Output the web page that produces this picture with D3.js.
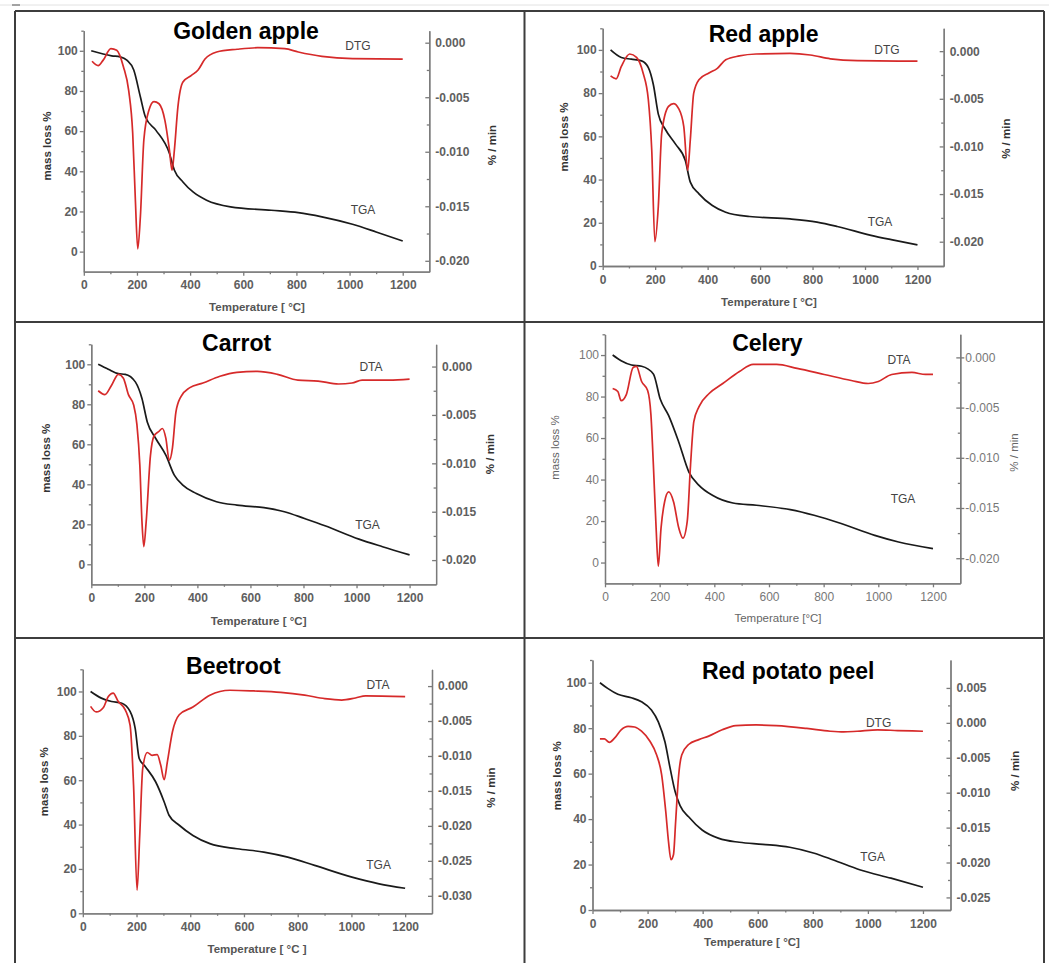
<!DOCTYPE html>
<html>
<head>
<meta charset="utf-8">
<script src="https://cdnjs.cloudflare.com/ajax/libs/d3/7.8.5/d3.min.js"></script>
<style>
    body { margin: 0; background: #fff; }
    svg { display: block; font-family: "Liberation Sans", Arial, sans-serif; }
</style>
</head>
<body>
<div id="chart_area"></div>
<script>
// titles and labels
var titles = ["Golden apple", "Red apple", "Carrot", "Celery", "Beetroot", "Red potato peel"];
var rateNames = ["DTG", "DTG", "DTA", "DTA", "DTA", "DTG"];
var tempTitles = ["Temperature [ °C]", "Temperature [ °C]", "Temperature [ °C]", "Temperature [°C]", "Temperature [ °C ]", "Temperature [ °C]"];

// tick values
var tempTicks = [0, 200, 400, 600, 800, 1000, 1200];
var tempMinor = [100, 300, 500, 700, 900, 1100];
var massTicks = [0, 20, 40, 60, 80, 100];
var massMinor = [10, 30, 50, 70, 90, 110];
var rateTicks20 = [0, -0.005, -0.010, -0.015, -0.020];
var rateTicks30 = [0, -0.005, -0.010, -0.015, -0.020, -0.025, -0.030];
var rateTicks25 = [0.005, 0, -0.005, -0.010, -0.015, -0.020, -0.025];

// [temperature °C, mass %]  /  [temperature °C, rate %/min]
var goldenTGA = [[28,100],[105,97.5],[137,97],[162,95.3],[188,90.4],[213,77],[232,67],[271,60.5],[322,49],[341,40.5],[373,34.7],[411,29.7],[462,25.6],[552,22.3],[705,20.6],[807,19.4],[896,17.3],[1011,13.6],[1100,9.8],[1200,5.3]];
var goldenDTG = [[31,-0.0017],[54,-0.0021],[73,-0.0016],[102,-0.00055],[124,-0.0007],[149,-0.0022],[169,-0.0044],[184,-0.0083],[194,-0.0144],[203,-0.0189],[213,-0.0159],[226,-0.0089],[245,-0.0062],[264,-0.0054],[283,-0.0056],[305,-0.0071],[322,-0.0098],[332,-0.0117],[341,-0.0098],[354,-0.0059],[373,-0.0036],[405,-0.0030],[430,-0.0025],[456,-0.0015],[500,-0.00085],[577,-0.0006],[654,-0.00046],[756,-0.00055],[807,-0.00085],[896,-0.00125],[1011,-0.00146],[1200,-0.0015]];

var redTGA = [[30,100],[71,96.5],[109,95.7],[148,94.9],[174,91.8],[193,84],[212,70.3],[238,63.4],[277,56.5],[315,48.8],[334,38.8],[367,33.4],[418,28],[469,24.9],[560,22.9],[714,21.8],[817,20.3],[894,18.3],[1023,14.2],[1100,12.2],[1200,9.8]];
var redDTG = [[30,-0.0026],[51,-0.0029],[71,-0.0016],[103,-0.0003],[129,-0.00066],[154,-0.0023],[174,-0.0051],[187,-0.0104],[199,-0.0200],[212,-0.0163],[225,-0.0086],[251,-0.0058],[270,-0.0055],[289,-0.0060],[309,-0.0079],[324,-0.0125],[334,-0.0093],[347,-0.0044],[367,-0.0030],[405,-0.0023],[437,-0.0018],[469,-0.0009],[521,-0.0005],[585,-0.0003],[714,-0.00024],[791,-0.0004],[868,-0.0008],[971,-0.0010],[1200,-0.00105]];

var carrotTGA = [[26,100],[64,97.5],[102,95.3],[128,95],[166,91.2],[191,82.9],[211,71.2],[243,62.9],[281,54.6],[313,44.6],[345,39.6],[396,35.4],[472,31.3],[549,29.6],[651,28.3],[728,26.3],[804,22.9],[881,19.3],[1009,12.6],[1098,8.8],[1200,4.7]];
var carrotDTA = [[26,-0.0025],[51,-0.0029],[77,-0.0019],[102,-0.0008],[121,-0.0012],[140,-0.0029],[160,-0.0040],[172,-0.0060],[183,-0.0102],[191,-0.0160],[198,-0.0186],[207,-0.0160],[223,-0.0092],[236,-0.0072],[255,-0.0067],[268,-0.0064],[281,-0.0074],[294,-0.0097],[306,-0.0084],[319,-0.0047],[338,-0.0031],[370,-0.0022],[421,-0.0017],[485,-0.0010],[549,-0.0006],[626,-0.0005],[702,-0.0008],[779,-0.0014],[855,-0.0015],[932,-0.0018],[983,-0.0017],[1021,-0.0014],[1123,-0.0014],[1200,-0.0013]];

var celeryTGA = [[28,100],[59,97.3],[97,95.2],[134,94.6],[177,90.9],[202,78.8],[233,70.8],[270,58],[307,43.6],[344,37.2],[393,32.4],[468,28.7],[554,27.6],[678,25.5],[765,22.8],[864,18.8],[987,13.1],[1074,9.9],[1200,6.7]];
var celeryDTA = [[28,-0.0031],[47,-0.0034],[59,-0.0043],[78,-0.0037],[103,-0.0010],[115,-0.0009],[134,-0.0024],[156,-0.0033],[168,-0.0057],[177,-0.0107],[187,-0.0170],[195,-0.0208],[205,-0.0170],[218,-0.0144],[233,-0.0134],[251,-0.0144],[270,-0.0170],[285,-0.0180],[301,-0.0163],[313,-0.0107],[325,-0.0064],[344,-0.0049],[381,-0.0036],[431,-0.0026],[492,-0.0014],[542,-0.0007],[628,-0.0007],[703,-0.0011],[802,-0.0017],[901,-0.0023],[963,-0.0026],[1000,-0.0024],[1049,-0.0017],[1123,-0.0015],[1173,-0.0017],[1200,-0.0017]];

var beetTGA = [[29,100],[69,97],[107,95.5],[145,94.7],[176,91],[195,83.4],[210,69.8],[233,66.1],[271,59.3],[303,50.2],[321,44.2],[359,39.7],[410,35.1],[473,31.4],[574,29.1],[674,27.6],[763,25.3],[863,21.6],[1002,16.3],[1103,13.3],[1200,11.3]];
var beetDTA = [[29,-0.0029],[50,-0.0037],[76,-0.0031],[95,-0.0015],[113,-0.0010],[132,-0.0022],[158,-0.0034],[176,-0.0056],[189,-0.0142],[202,-0.0292],[212,-0.0213],[223,-0.0118],[240,-0.0095],[258,-0.0099],[277,-0.0098],[290,-0.0113],[303,-0.0134],[315,-0.0108],[334,-0.0065],[359,-0.0041],[410,-0.0030],[473,-0.0013],[548,-0.0006],[637,-0.0007],[737,-0.0009],[826,-0.0013],[901,-0.0018],[964,-0.0020],[1015,-0.0017],[1053,-0.0014],[1200,-0.0015]];

var potatoTGA = [[27,100],[55,97.5],[92,94.9],[141,93.4],[178,91.6],[214,88],[239,82.8],[263,74],[282,62.3],[300,52.1],[318,45.9],[349,41],[398,35.2],[459,31.5],[533,29.8],[618,28.9],[716,27.6],[802,25.1],[875,22],[973,17.6],[1084,14],[1200,10]];
var potatoDTG = [[27,-0.0023],[43,-0.0023],[61,-0.0028],[80,-0.0022],[104,-0.0010],[129,-0.0005],[153,-0.0006],[178,-0.0012],[208,-0.0026],[233,-0.0046],[251,-0.0074],[266,-0.0127],[276,-0.0170],[285,-0.0196],[294,-0.0189],[302,-0.0141],[312,-0.0079],[324,-0.0046],[349,-0.0031],[386,-0.0024],[422,-0.0019],[471,-0.0010],[520,-0.0004],[594,-0.0003],[667,-0.0004],[778,-0.0008],[863,-0.0012],[912,-0.0013],[961,-0.0012],[1035,-0.0010],[1108,-0.0011],[1200,-0.0012]];

var tgaSeries = [goldenTGA, redTGA, carrotTGA, celeryTGA, beetTGA, potatoTGA];
var rateSeries = [goldenDTG, redDTG, carrotDTA, celeryDTA, beetDTA, potatoDTG];
var rateTickSets = [rateTicks20, rateTicks20, rateTicks20, rateTicks20, rateTicks30, rateTicks25];
var massDomains = [[-10, 110], [0, 110], [-10, 110], [-10, 110], [0, 110], [0, 110]];
var rateDomains = [[-0.021, 0.0011], [-0.02255, 0.0024], [-0.0225, 0.0023], [-0.0225, 0.0023], [-0.0325, 0.0024], [-0.0268, 0.009]];

// panel placement (pixels)
var panels = [
    { left: 83.8, right: 429.3, top: 30.7, bottom: 271.7, titleX: 246, titleY: 38.5, rateLab: [358, 46], tgaLab: [363, 210], xTitle: [257, 311], mTitle: [47.3, 146], rTitle: [492, 145] },
    { left: 602.7, right: 943.7, top: 28.3, bottom: 266, titleX: 763.6, titleY: 41.5, rateLab: [887, 50], tgaLab: [880, 221.7], xTitle: [769, 306], mTitle: [564, 137], rTitle: [1006, 138.7] },
    { left: 91.3, right: 436.1, top: 344.3, bottom: 584.3, titleX: 236.6, titleY: 350.7, rateLab: [371, 366.7], tgaLab: [367.5, 524.3], xTitle: [258.6, 625], mTitle: [46.3, 458.3], rTitle: [490.2, 454] },
    { left: 605, right: 960.3, top: 334.3, bottom: 583.3, titleX: 767.3, titleY: 351, rateLab: [899, 360], tgaLab: [903, 499], xTitle: [778, 622], mTitle: [555.4, 447.5], rTitle: [1014.3, 452.5] },
    { left: 82.8, right: 432, top: 669.3, bottom: 913.3, titleX: 233.3, titleY: 674.3, rateLab: [378, 685], tgaLab: [378.6, 865], xTitle: [257, 953], mTitle: [44, 781.7], rTitle: [490.9, 787.5] },
    { left: 592.5, right: 950.5, top: 660, bottom: 910, titleX: 788.2, titleY: 679, rateLab: [878.6, 722.3], tgaLab: [872.6, 856.7], xTitle: [752, 945.5], mTitle: [557, 775.8], rTitle: [1015.3, 770.8] }
];

var width = 1049, height = 963;

var svg = d3.select("#chart_area")
    .append("svg")
    .attr("width", width)
    .attr("height", height);

// page rule and table grid
svg.append("line").attr("x1", 0).attr("x2", width).attr("y1", 5).attr("y2", 5)
    .attr("stroke", "#e2e2e2").attr("stroke-width", 1);
svg.append("line").attr("x1", 12).attr("x2", 20).attr("y1", 5).attr("y2", 5)
    .attr("stroke", "#555").attr("stroke-width", 1);

var grid = svg.append("g").attr("stroke", "#3d3d3d").attr("stroke-width", 2);
[[15, 11, 1044, 11], [15, 322, 1044, 322], [15, 638, 1044, 638],
 [15, 11, 15, height], [524.5, 11, 524.5, height], [1044, 11, 1044, height]].forEach(function (l) {
    grid.append("line").attr("x1", l[0]).attr("y1", l[1]).attr("x2", l[2]).attr("y2", l[3]);
});

function styleAxis(sel, light) {
    sel.selectAll("path, line").attr("stroke", "#7a7a7a").attr("stroke-width", 1.3);
    sel.attr("font-family", null).attr("font-size", null);
    sel.selectAll("text")
        .attr("fill", light ? "#777" : "#606060")
        .style("font-size", "12px")
        .style("font-weight", light ? "normal" : "bold");
}

function drawPanel(p, i) {
    var light = (i === 3);
    var g = svg.append("g").attr("class", "panel");

    var x = d3.scaleLinear().domain([0, 1300]).range([p.left, p.right]);
    var yMass = d3.scaleLinear().domain(massDomains[i]).range([p.bottom, p.top]);
    var yRate = d3.scaleLinear().domain(rateDomains[i]).range([p.bottom, p.top]);

    // x axis
    var xa = g.append("g").attr("transform", "translate(0," + p.bottom + ")")
        .call(d3.axisBottom(x).tickValues(tempTicks).tickFormat(d3.format("d"))
            .tickSize(4).tickPadding(5).tickSizeOuter(0));
    styleAxis(xa, light);
    var xm = g.append("g").attr("transform", "translate(0," + p.bottom + ")")
        .call(d3.axisBottom(x).tickValues(tempMinor).tickSize(2.5).tickFormat("").tickSizeOuter(0));
    styleAxis(xm, light);

    // left axis
    var ya = g.append("g").attr("transform", "translate(" + p.left + ",0)")
        .call(d3.axisLeft(yMass).tickValues(massTicks).tickSize(4).tickPadding(2).tickSizeOuter(0));
    styleAxis(ya, light);
    var ym = g.append("g").attr("transform", "translate(" + p.left + ",0)")
        .call(d3.axisLeft(yMass).tickValues(massMinor).tickSize(2.5).tickFormat("").tickSizeOuter(0));
    styleAxis(ym, light);

    // right axis
    var rt = rateTickSets[i];
    var rMinor = rt.slice(0, -1).map(function (d) { return d - 0.0025; });
    var ra = g.append("g").attr("transform", "translate(" + p.right + ",0)")
        .call(d3.axisRight(yRate).tickValues(rt).tickSize(light ? 4 : -4).tickPadding(light ? 1 : 6).tickSizeOuter(0)
            .tickFormat(function (d) { return d.toFixed(3); }));
    styleAxis(ra, light);
    if (light) ra.selectAll(".tick line").attr("x1", -4);
    var rm = g.append("g").attr("transform", "translate(" + p.right + ",0)")
        .call(d3.axisRight(yRate).tickValues(rMinor).tickSize(-2.5).tickFormat("").tickSizeOuter(0));
    styleAxis(rm, light);

    // curves
    var massLine = d3.line()
        .x(function (d) { return x(d[0]); })
        .y(function (d) { return yMass(d[1]); })
        .curve(d3.curveMonotoneX);
    var rateLine = d3.line()
        .x(function (d) { return x(d[0]); })
        .y(function (d) { return yRate(d[1]); })
        .curve(d3.curveMonotoneX);

    g.append("path")
        .datum(tgaSeries[i])
        .attr("d", massLine)
        .attr("fill", "none")
        .attr("stroke", "#1a1a1a")
        .attr("stroke-width", 1.7);

    g.append("path")
        .datum(rateSeries[i])
        .attr("d", rateLine)
        .attr("fill", "none")
        .attr("stroke", "#d62a2a")
        .attr("stroke-width", 1.7);

    // texts
    g.append("text")
        .attr("x", p.titleX).attr("y", p.titleY)
        .attr("text-anchor", "middle")
        .style("font-size", "23px").style("font-weight", "bold")
        .attr("fill", "#000")
        .text(titles[i]);

    g.append("text")
        .attr("x", p.rateLab[0]).attr("y", p.rateLab[1]).attr("dy", "0.35em")
        .attr("text-anchor", "middle")
        .style("font-size", "12px")
        .attr("fill", "#444")
        .text(rateNames[i]);

    g.append("text")
        .attr("x", p.tgaLab[0]).attr("y", p.tgaLab[1]).attr("dy", "0.35em")
        .attr("text-anchor", "middle")
        .style("font-size", "12px")
        .attr("fill", "#444")
        .text("TGA");

    g.append("text")
        .attr("x", p.xTitle[0]).attr("y", p.xTitle[1])
        .attr("text-anchor", "middle")
        .style("font-size", "11.5px").style("font-weight", light ? "normal" : "bold")
        .attr("fill", light ? "#666" : "#555")
        .text(tempTitles[i]);

    g.append("text")
        .attr("transform", "translate(" + p.mTitle[0] + "," + p.mTitle[1] + ") rotate(-90)")
        .attr("dy", "0.35em")
        .attr("text-anchor", "middle")
        .style("font-size", "11.5px").style("font-weight", light ? "normal" : "bold")
        .attr("fill", light ? "#666" : "#333")
        .text("mass loss %");

    g.append("text")
        .attr("transform", "translate(" + p.rTitle[0] + "," + p.rTitle[1] + ") rotate(-90)")
        .attr("dy", "0.35em")
        .attr("text-anchor", "middle")
        .style("font-size", "11.5px").style("font-weight", light ? "normal" : "bold")
        .attr("fill", light ? "#666" : "#333")
        .text("% / min");
}

panels.forEach(drawPanel);
</script>
</body>
</html>
